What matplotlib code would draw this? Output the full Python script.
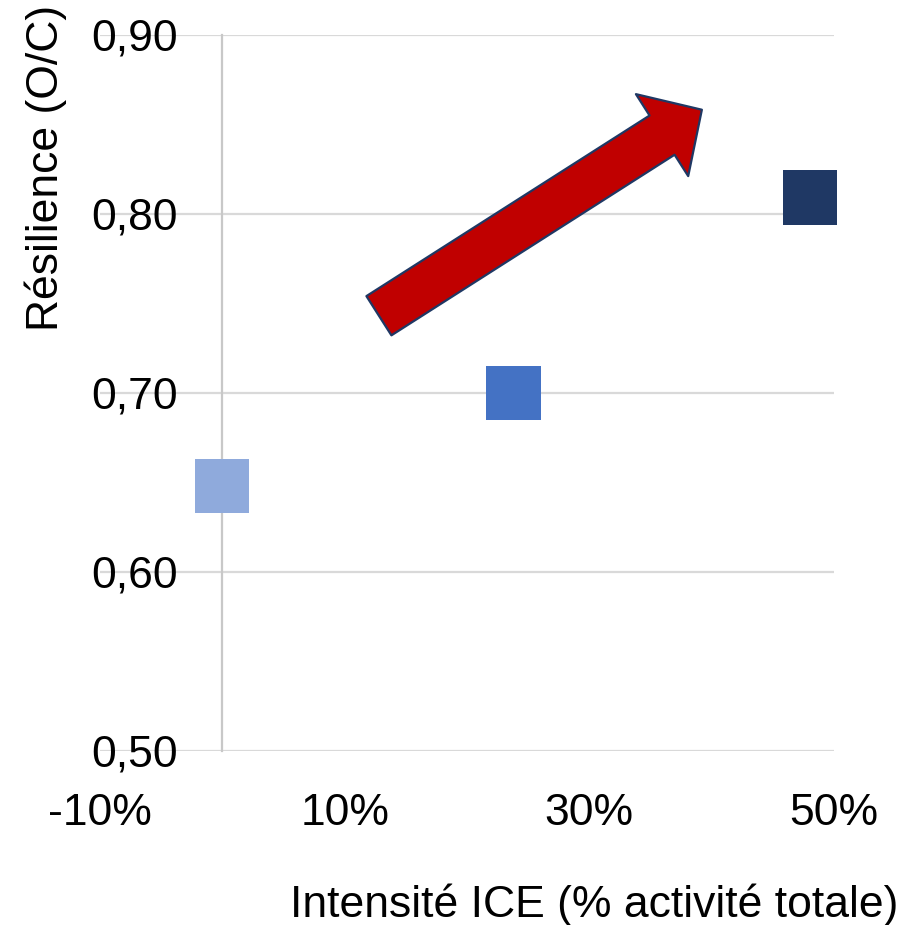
#!/usr/bin/env python3
# -*- coding: utf-8 -*-
"""
Résilience vs intensité ICE - nuage de points avec flèche de tendance
"""

import matplotlib
matplotlib.use('Agg')
import matplotlib.pyplot as plt
from matplotlib.patches import FancyArrowPatch

plt.rcParams['font.family'] = ['Liberation Sans', 'DejaVu Sans']

# données
ice_intensity = [0.0, 23.8, 48.0]          # % activité totale
resilience = [0.648, 0.700, 0.809]         # O/C
point_colors = ['#8FAADC', '#4472C4', '#1F3864']

x_ticks = [-10, 10, 30, 50]
x_tick_labels = ['-10%', '10%', '30%', '50%']
y_ticks = [0.50, 0.60, 0.70, 0.80, 0.90]
y_tick_labels = ['0,50', '0,60', '0,70', '0,80', '0,90']

# flèche de tendance (début -> pointe), en coordonnées des données
arrow_start = (12.8, 0.743)
arrow_end = (39.2, 0.858)

GRID = '#D9D9D9'


def main():
    fig = plt.figure(figsize=(9.15, 9.25), dpi=100)
    ax = fig.add_axes([100 / 915, 1 - 751 / 925, 734 / 915, 716.5 / 925])

    ax.set_xlim(-10, 50)
    ax.set_ylim(0.50, 0.90)

    for side in ['top', 'right', 'bottom']:
        ax.spines[side].set_visible(False)
    # l'axe vertical coupe à 0 %
    ax.spines['left'].set_position(('data', 0))
    ax.spines['left'].set_color('#C8C8C8')
    ax.spines['left'].set_linewidth(1.6)

    # quadrillage horizontal
    ax.set_yticks(y_ticks)
    ax.set_yticklabels(y_tick_labels)
    ax.set_xticks(x_ticks)
    ax.set_xticklabels(x_tick_labels)
    ax.yaxis.grid(True, color=GRID, linewidth=1.6)
    ax.xaxis.grid(False)
    ax.set_axisbelow(True)

    ax.tick_params(axis='y', length=0, pad=32, labelsize=32)
    ax.tick_params(axis='x', length=0, pad=30, labelsize=32)

    # points
    ax.scatter(ice_intensity, resilience, s=38.9 ** 2, marker='s',
               c=point_colors, linewidths=0, zorder=3, clip_on=False)

    # flèche rouge
    arrow = FancyArrowPatch(arrow_start, arrow_end,
                            arrowstyle='simple,head_length=34,head_width=70,tail_width=33.5',
                            mutation_scale=1, shrinkA=0, shrinkB=0,
                            facecolor='#C00000', edgecolor='#1F3864',
                            linewidth=1.6, zorder=4)
    ax.add_patch(arrow)

    # titres des axes
    fig.text(594 / 915, 1 - 905 / 925, 'Intensité ICE (% activité totale)',
             ha='center', va='center', fontsize=32)
    fig.text(46 / 915, 1 - 168 / 925, 'Résilience (O/C)',
             ha='center', va='center', rotation=90, fontsize=32)

    fig.savefig('out.png', dpi=100)
    plt.close(fig)


if __name__ == "__main__":
    main()
